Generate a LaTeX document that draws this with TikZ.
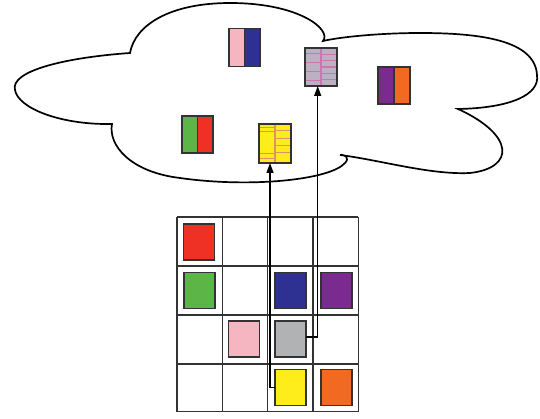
\documentclass[tikz,border=0pt]{standalone}
\usetikzlibrary{arrows.meta,calc}
\definecolor{cred}{HTML}{EE3124}
\definecolor{cgreen}{HTML}{5BB547}
\definecolor{cblue}{HTML}{2E3192}
\definecolor{cpurple}{HTML}{7B2A90}
\definecolor{cpink}{HTML}{F6B6C1}
\definecolor{cgray}{HTML}{B0B2B3}
\definecolor{cyellow}{HTML}{FFEC1A}
\definecolor{corange}{HTML}{F26A21}
\definecolor{cgraystr}{HTML}{BCB0C2}
\definecolor{cstrpink}{HTML}{C878B0}
\definecolor{cstryel}{HTML}{E0906A}
\definecolor{cline}{HTML}{333333}
\begin{document}
\begin{tikzpicture}[x=1pt,y=-1pt,
  sq/.style={draw=cline,line width=1.3pt,minimum width=31pt,minimum height=36pt,inner sep=0pt,outer sep=0pt},
  csq/.style={sq,minimum width=31pt,minimum height=38pt},
  half/.style 2 args={path picture={
     \fill[#1] (path picture bounding box.south west) rectangle (path picture bounding box.north);
     \fill[#2] (path picture bounding box.south) rectangle (path picture bounding box.north east);
     \draw[cline,line width=1.1pt] (path picture bounding box.south) -- (path picture bounding box.north);}},
  gridline/.style={draw=cline,line width=1.5pt},
  cloudline/.style={draw=black,line width=1.7pt},
  arr/.style={draw=black,line width=1.3pt,-{Triangle[length=10pt,width=7pt]}},
  stripe/.style={line width=1.1pt}
]
\useasboundingbox (0,0) rectangle (540,419);
\fill[white] (0,0) rectangle (540,419);

% cloud
\draw[cloudline] (130,53)
  .. controls (60,58) and (10,72) .. (15,90)
  .. controls (18,108) and (60,125) .. (112,124)
  .. controls (108,145) and (130,172) .. (180,178)
  .. controls (250,188) and (330,180) .. (345,163)
  .. controls (350,158) and (345,154) .. (340,155)
  .. controls (380,160) and (430,175) .. (470,173)
  .. controls (515,168) and (515,135) .. (458,109)
  .. controls (510,108) and (540,95) .. (537,75)
  .. controls (535,40) and (480,33) .. (420,33)
  .. controls (380,33) and (340,37) .. (323,41)
  .. controls (332,30) and (300,3) .. (230,3)
  .. controls (170,3) and (135,25) .. (130,53) -- cycle;

% cloud squares
\node[csq,half={cpink}{cblue}] (pb) at (244.5,47.5) {};
\node[csq,minimum width=32pt,fill=cgraystr] (cg) at (321,67) {};
\node[csq,minimum height=37pt,half={cgreen}{cred}] (gr) at (197.5,134.5) {};
\node[csq,minimum width=32pt,minimum height=39pt,fill=cyellow] (cy) at (275,143.5) {};
\node[csq,minimum width=32pt,minimum height=37pt,half={cpurple}{corange}] (po) at (394,85.5) {};

% stripes gray
\foreach \f in {0.14,0.39,0.63,0.86}
  \draw[stripe,cstrpink] ($(cg.north west)!\f!(cg.south west)$) -- ($(cg.north)!\f!(cg.south)$);
\foreach \f in {0.16,0.33,0.5,0.67,0.84}
  \draw[stripe,cstrpink] ($(cg.north)!\f!(cg.south)$) -- ($(cg.north east)!\f!(cg.south east)$);
\draw[stripe,cstrpink] (cg.north) -- (cg.south);
\draw[cline,line width=1.3pt] (cg.south west) rectangle (cg.north east);
% stripes yellow
\foreach \f in {0.1,0.2,0.75,0.88}
  \draw[stripe,cstryel] ($(cy.north west)!\f!(cy.south west)$) -- ($(cy.north)!\f!(cy.south)$);
\foreach \f in {0.17,0.37,0.56,0.74}
  \draw[stripe,cstryel] ($(cy.north)!\f!(cy.south)$) -- ($(cy.north east)!\f!(cy.south east)$);
\draw[stripe,cstryel] (cy.north) -- (cy.south);
\draw[cline,line width=1.3pt] (cy.south west) rectangle (cy.north east);

% grid
\foreach \x in {177,222.3,267.6,313,358.3}
  \draw[gridline] (\x,217) -- (\x,411.5);
\foreach \y in {217,266,315,364,411.5}
  \draw[gridline] (177,\y) -- (358.3,\y);

% grid squares
\node[sq,fill=cred] (rs) at (199,242) {};
\node[sq,fill=cgreen] (gs1) at (199.5,290.5) {};
\node[sq,fill=cblue] (bs) at (290.5,290.5) {};
\node[sq,fill=cpurple] (ps) at (336.5,290.5) {};
\node[sq,fill=cpink] (pks) at (244,339) {};
\node[sq,fill=cgray] (gs) at (290.5,339) {};
\node[sq,fill=cyellow] (ys) at (290.5,387.5) {};
\node[sq,fill=corange] (os) at (336.5,387.5) {};

% arrows
\draw[arr] (ys.west) -| ([xshift=-5pt]cy.south);
\draw[arr] ([yshift=2pt]gs.east) -| ([xshift=-3.3pt]cg.south);
\end{tikzpicture}
\end{document}
